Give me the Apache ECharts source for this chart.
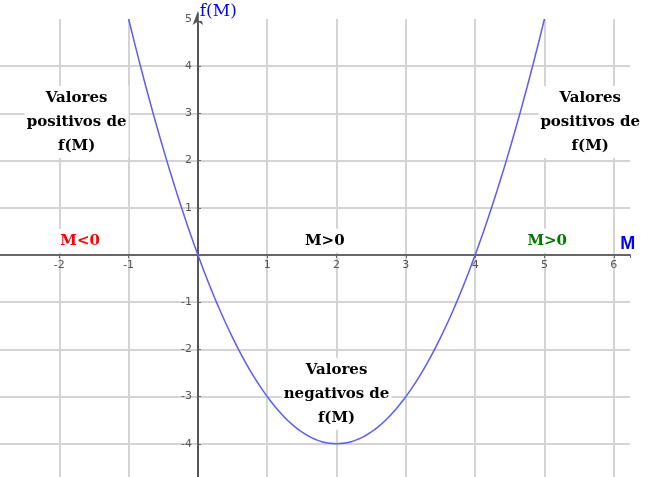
<!DOCTYPE html>
<html>
<head>
<meta charset="utf-8">
<script src="https://cdn.jsdelivr.net/npm/echarts@6/dist/echarts.min.js"></script>
<style>html,body{margin:0;padding:0;background:#fff}#c{width:653px;height:477px}</style>
</head>
<body>
<div id="c"></div>
<script>
// Curve points: M and f(M)
var mValues = [-1, -0.9, -0.8, -0.7, -0.6, -0.5, -0.4, -0.3, -0.2, -0.1, 0, 0.1, 0.2, 0.3, 0.4, 0.5, 0.6, 0.7, 0.8, 0.9, 1, 1.1, 1.2, 1.3, 1.4, 1.5, 1.6, 1.7, 1.8, 1.9, 2, 2.1, 2.2, 2.3, 2.4, 2.5, 2.6, 2.7, 2.8, 2.9, 3, 3.1, 3.2, 3.3, 3.4, 3.5, 3.6, 3.7, 3.8, 3.9, 4, 4.1, 4.2, 4.3, 4.4, 4.5, 4.6, 4.7, 4.8, 4.9, 5];
var fValues = [5, 4.41, 3.84, 3.29, 2.76, 2.25, 1.76, 1.29, 0.84, 0.41, 0, -0.39, -0.76, -1.11, -1.44, -1.75, -2.04, -2.31, -2.56, -2.79, -3, -3.19, -3.36, -3.51, -3.64, -3.75, -3.84, -3.91, -3.96, -3.99, -4, -3.99, -3.96, -3.91, -3.84, -3.75, -3.64, -3.51, -3.36, -3.19, -3, -2.79, -2.56, -2.31, -2.04, -1.75, -1.44, -1.11, -0.76, -0.39, 0, 0.41, 0.84, 1.29, 1.76, 2.25, 2.76, 3.29, 3.84, 4.41, 5];

// Annotations (text, anchor M, anchor f, colour)
var noteTexts = ['Valores\npositivos de\nf(M)', 'Valores\npositivos de\nf(M)', 'Valores\nnegativos de\nf(M)', 'M<0', 'M>0', 'M>0'];
var noteM = [-1.75, 5.66, 2.0, -1.7, 1.83, 5.04];
var noteF = [2.82, 2.82, -2.94, 0.30, 0.30, 0.30];
var noteColors = ['#000000', '#000000', '#000000', '#ff0000', '#000000', '#007a00'];

var xAxisName = 'M';
var yAxisName = 'f(M)';

var xMin = -3, xMax = 6.234, yMin = -5, yMax = 5;
var gridLeft = -10, gridWidth = 640, gridTop = 19, gridHeight = 472;

var curve = mValues.map(function (m, i) { return [m, fValues[i]]; });
var notes = noteTexts.map(function (t, i) {
  return { value: [noteM[i], noteF[i]], label: { formatter: t, color: noteColors[i] } };
});

// axis positions: move axes so they pass through the origin
var xZeroPx = (0 - xMin) / (xMax - xMin) * gridWidth;      // from grid left
var yZeroPx = (yMax - 0) / (yMax - yMin) * gridHeight;      // from grid top

var chart = echarts.init(document.getElementById('c'));
var gridStyle = { color: '#d4d4d4', width: 2 };
chart.setOption({
  animation: false,
  backgroundColor: '#ffffff',
  grid: { left: gridLeft, width: gridWidth, top: gridTop, height: gridHeight, containLabel: false, outerBoundsMode: 'none' },
  xAxis: {
    type: 'value', min: xMin, max: xMax, interval: 1, position: 'bottom',
    offset: -(gridHeight - yZeroPx),
    axisLine: { onZero: false, lineStyle: { color: '#666', width: 2 } },
    axisTick: { show: true, length: 3, lineStyle: { color: '#666' } },
    axisLabel: {
      color: '#555', fontSize: 11, fontFamily: 'DejaVu Sans', margin: 5,
      formatter: function (v) { return (v === 0 || Math.abs(v - Math.round(v)) > 1e-6) ? '' : String(v); }
    },
    splitLine: { show: true, lineStyle: gridStyle, showMinLine: false, showMaxLine: false }
  },
  yAxis: {
    type: 'value', min: yMin, max: yMax, interval: 1, position: 'left',
    offset: -xZeroPx,
    axisLine: { onZero: false, lineStyle: { color: '#555', width: 2 },
      symbol: ['none', 'arrow'], symbolSize: [8, 14], symbolOffset: [0, 8] },
    axisTick: { show: true, length: 3, inside: true, lineStyle: { color: '#666' } },
    axisLabel: {
      color: '#555', fontSize: 11, fontFamily: 'DejaVu Sans', margin: 6,
      formatter: function (v) { return v === 0 ? '' : String(v); }
    },
    splitLine: { show: true, lineStyle: gridStyle, showMinLine: false, showMaxLine: false }
  },
  series: [
    {
      type: 'scatter', z: 1, clip: false, symbolSize: 0, silent: true,
      itemStyle: { opacity: 1 },
      data: notes,
      label: {
        show: true, position: 'inside', align: 'center', verticalAlign: 'middle',
        fontFamily: 'DejaVu Serif', fontWeight: 'bold', fontSize: 15, lineHeight: 24,
        backgroundColor: '#ffffff', padding: [0, 2], textBorderWidth: 0, opacity: 1
      }
    },
    {
      type: 'scatter', z: 4, clip: false, symbolSize: 0, silent: true,
      itemStyle: { opacity: 1 },
      data: [
        { value: [0.33, 5.16], label: { formatter: yAxisName, color: '#0000ff', fontFamily: 'DejaVu Serif', fontSize: 17, backgroundColor: '#ffffff', padding: [1, 6, 1, 1] } },
        { value: [6.2, 0.24], label: { formatter: xAxisName, color: '#0000ff', fontFamily: 'Liberation Sans', fontWeight: 'bold', fontSize: 18 } }
      ],
      label: { show: true, position: 'inside', align: 'center', verticalAlign: 'middle', textBorderWidth: 0, opacity: 1 }
    },
    {
      type: 'line', z: 3, smooth: true, showSymbol: false, symbol: 'none',
      data: curve,
      lineStyle: { color: '#5b5bff', width: 1.5 }
    }
  ]
});
</script>
</body>
</html>
